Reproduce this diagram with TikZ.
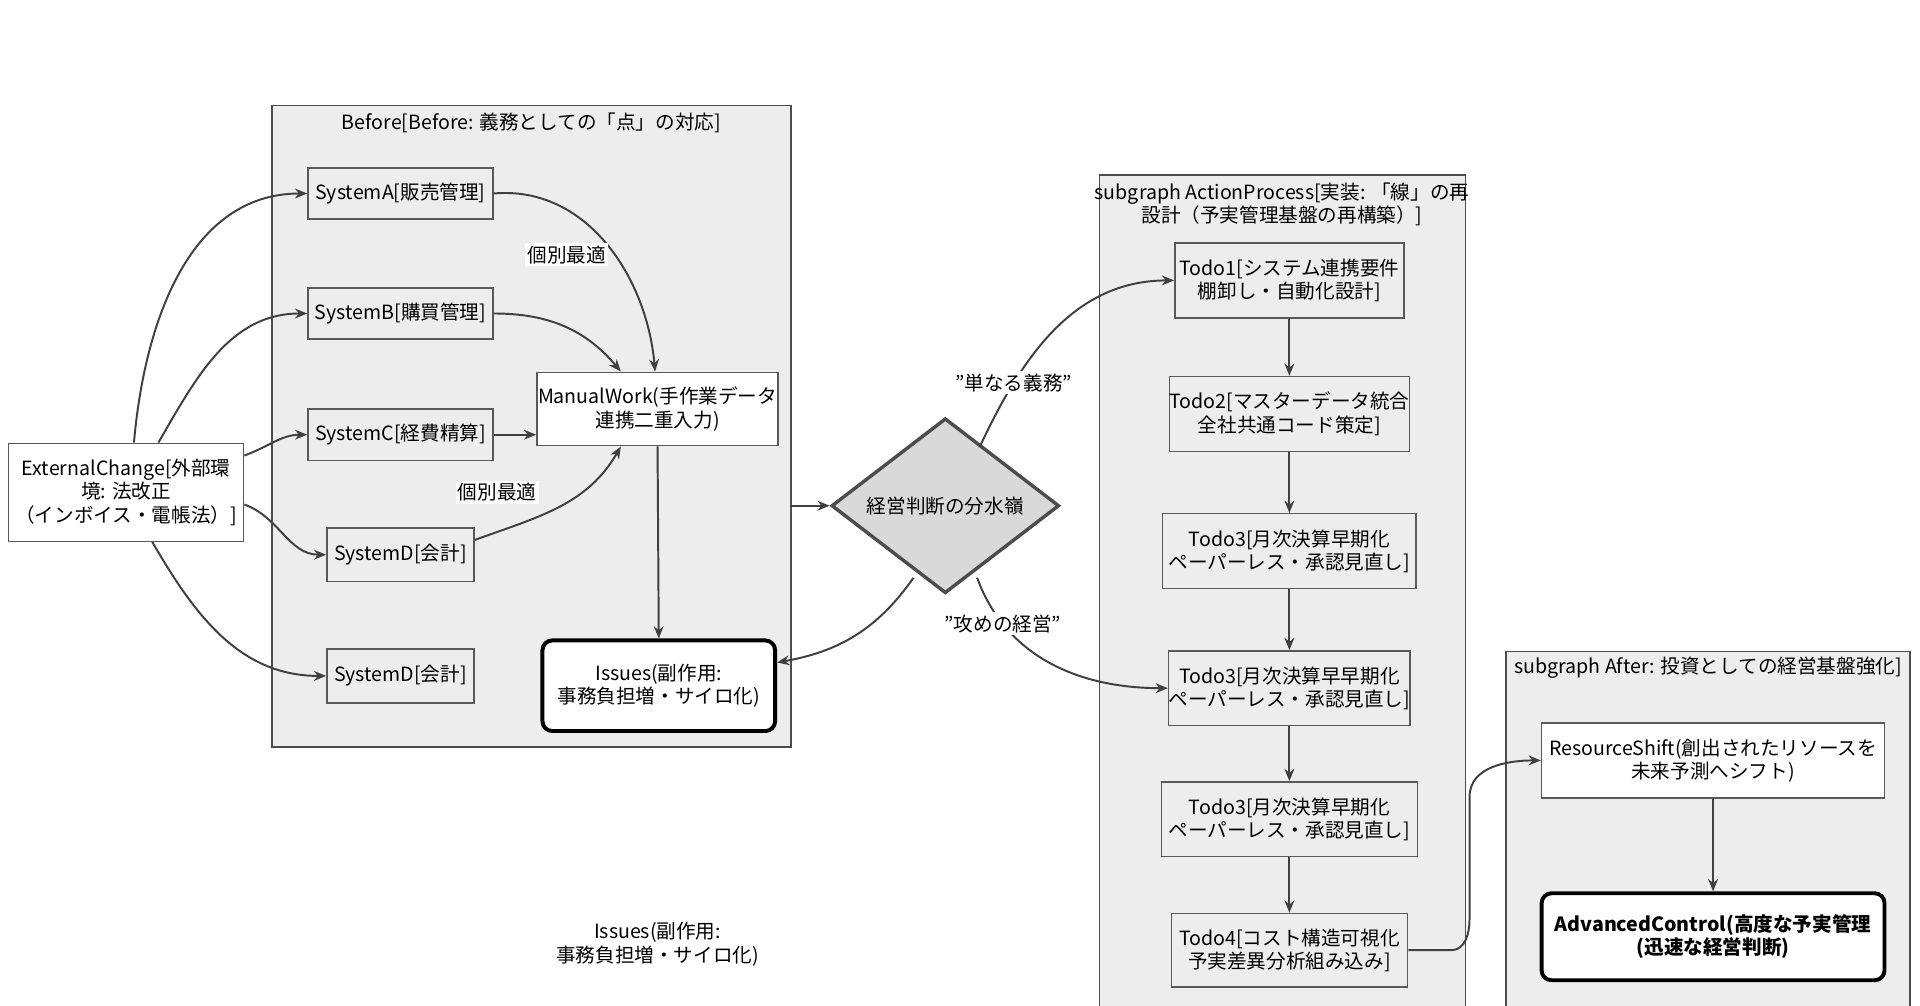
\documentclass[tikz,border=0pt]{standalone}
\usepackage{fontspec}
\setmainfont{Noto Sans CJK JP}
\usetikzlibrary{arrows.meta,shapes.geometric,calc}
\begin{document}
\begin{tikzpicture}[x=0.5pt,y=-0.5pt,font=\fontsize{8}{9.5}\selectfont,
 cl/.style={draw=black!70,fill=black!7,line width=0.6pt},
 bx/.style={draw=black!65,fill=black!7,line width=0.6pt,align=center,inner sep=0pt,minimum height=#1},
 wb/.style={draw=black!65,fill=white,line width=0.6pt,align=center,inner sep=0pt},
 ar/.style={-{Stealth[length=5pt,width=4pt]},line width=0.8pt,draw=black!75},
 lb/.style={fill=white,inner sep=1pt,font=\fontsize{8}{9.5}\selectfont}]
\useasboundingbox (0,0) rectangle (1568,821);
\fill[white] (0,0) rectangle (1568,821);
% clusters
\draw[cl] (222,86) rectangle (646,610);
\node at (434,100) {Before[Before: 義務としての「点」の対応]};
\draw[cl] (898,143) rectangle (1197,830);
\node[align=center] at (1047,167) {subgraph ActionProcess[実装: 「線」の再\\設計（予実管理基盤の再構築）]};
\draw[cl] (1230,532) rectangle (1560,830);
\node at (1395,545) {subgraph After: 投資としての経営基盤強化]};
% nodes
\node[wb,minimum width=96pt,minimum height=40pt] (ext) at (103,402) {ExternalChange[外部環\\境: 法改正\\（インボイス・電帳法）]};
\node[bx=21pt,minimum width=75.5pt] (sa) at (327,158) {SystemA[販売管理]};
\node[bx=21pt,minimum width=75.5pt] (sb) at (327,256) {SystemB[購買管理]};
\node[bx=21pt,minimum width=75.5pt] (sc) at (327,355) {SystemC[経費精算]};
\node[bx=22pt,minimum width=60pt] (sd) at (327,453) {SystemD[会計]};
\node[bx=22pt,minimum width=60pt] (se) at (327,552) {SystemD[会計]};
\node[wb,minimum width=98.5pt,minimum height=30pt] (mw) at (537,334) {ManualWork(手作業データ\\連携二重入力)};
\node[wb,line width=1.6pt,draw=black,rounded corners=4pt,minimum width=95pt,minimum height=37pt] (is) at (538,560) {Issues(副作用:\\事務負担増・サイロ化)};
\node[diamond,draw=black!70,fill=black!15,line width=1.4pt,minimum width=93pt,minimum height=53pt,inner sep=0pt] (dm) at (772,413) {経営判断の分水嶺};
\node[bx=30.5pt,minimum width=93.5pt] (t1) at (1053,229) {Todo1[システム連携要件\\棚卸し・自動化設計]};
\node[bx=30.5pt,minimum width=98pt] (t2) at (1053,338) {Todo2[マスターデータ統合\\全社共通コード策定]};
\node[bx=30.5pt,minimum width=103.5pt] (t3) at (1053,450) {Todo3[月次決算早期化\\ペーパーレス・承認見直し]};
\node[bx=30.5pt,minimum width=98.5pt] (t3b) at (1053,562) {Todo3[月次決算早早期化\\ペーパーレス・承認見直し]};
\node[bx=30.5pt,minimum width=104.5pt] (t3c) at (1053,669) {Todo3[月次決算早期化\\ペーパーレス・承認見直し]};
\node[bx=30pt,minimum width=96.5pt] (t4) at (1053,776) {Todo4[コスト構造可視化\\予実差異分析組み込み]};
\node[wb,minimum width=140pt,minimum height=30.5pt] (rs) at (1399,621) {ResourceShift(創出されたリソースを\\未来予測へシフト)};
\node[wb,line width=1.6pt,draw=black,rounded corners=4pt,minimum width=140pt,minimum height=35.5pt,font=\fontsize{8}{9.5}\selectfont\bfseries] (ac) at (1399,765) {AdvancedControl(高度な予実管理\\(迅速な経営判断)};
\node[align=center] (fl) at (537,771) {Issues(副作用:\\事務負担増・サイロ化)};
\coordinate (bE) at (646,413);
% edges
\draw[ar] ($(ext.north west)+(103,0)$) to[out=85,in=180] (sa.west);
\draw[ar] ($(ext.north west)+(123,0)$) to[out=60,in=180] (sb.west);
\draw[ar] ($(ext.east)+(0,-30)$) to[out=20,in=180] (sc.west);
\draw[ar] ($(ext.east)+(0,10)$) to[out=-20,in=180] (sd.west);
\draw[ar] ($(ext.south west)+(118,0)$) to[out=-60,in=180] (se.west);
\draw[ar] (sa.east) to[out=5,in=95] node[lb,pos=0.55,left=2pt] {個別最適} ($(mw.north)+(-2,0)$);
\draw[ar] (sb.east) to[out=0,in=130] ($(mw.north)+(-30,0)$);
\draw[ar] (sc.east) -- (mw.west|-sc.east);
\draw[ar] ($(sd.east)+(0,-12)$) to[out=20,in=-120] ($(mw.south)+(-30,0)$);
\node[lb] at (406,402) {個別最適};
\draw[ar] (mw.south) -- (is.north);
\draw[ar] (bE) -- (dm.west);
\draw[ar] ($(dm.south)+(-26,-14)$) to[out=-125,in=10] ($(is.east)+(0,-19)$);
\draw[ar] ($(dm.north)+(28,25)$) to[out=65,in=180] node[lb,pos=0.25] {"単なる義務"} (t1.west);
\draw[ar] ($(dm.south)+(26,-14)$) to[out=-70,in=180] node[lb,pos=0.22] {"攻めの経営"} (t3b.west);
\draw[ar] (t1) -- (t2);
\draw[ar] (t2) -- (t3);
\draw[ar] (t3) -- (t3b);
\draw[ar] (t3b) -- (t3c);
\draw[ar] (t3c) -- (t4);
\draw[ar] (t4.east) -- ++(35,0) to[out=0,in=-90] ++(15,-25) -- ++(0,-100) to[out=90,in=180] (rs.west);
\draw[ar] (rs) -- (ac);
\end{tikzpicture}
\end{document}
